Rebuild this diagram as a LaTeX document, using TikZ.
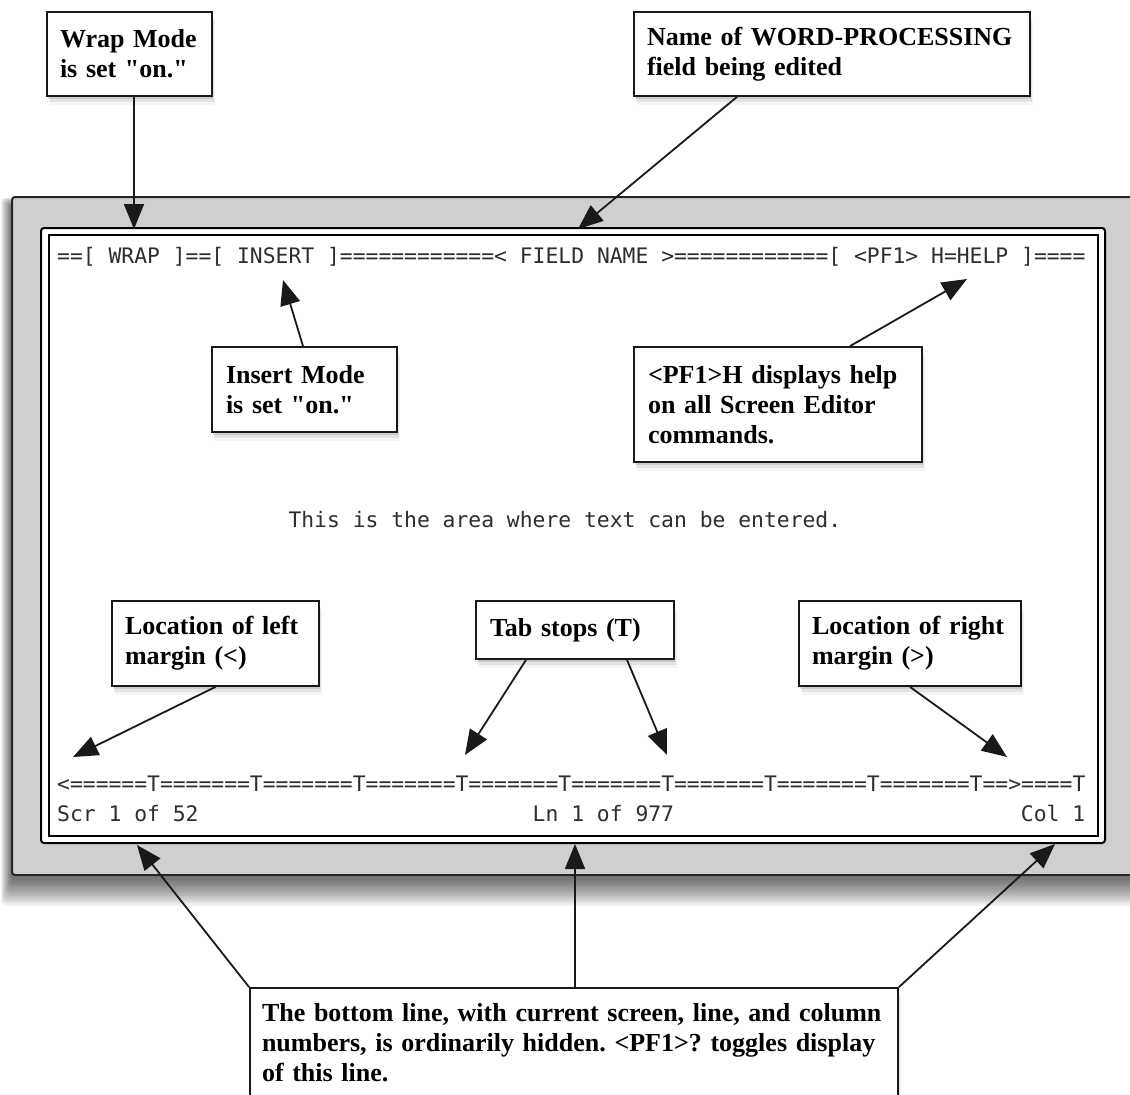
\documentclass[tikz,border=0pt]{standalone}
\usepackage{fontspec}
\setmainfont{Liberation Serif}
\newfontfamily\scrmono{DejaVu Sans Mono}
\usetikzlibrary{arrows.meta,calc,shadows}
\definecolor{greybg}{RGB}{207,207,207}
\frenchspacing
\tikzset{
  callout/.style={draw=black!90, line width=1.8pt, fill=white, align=left,
    inner xsep=13pt, inner ysep=0pt,
    font=\fontsize{26}{30}\selectfont\bfseries,
    general shadow={fill=black, opacity=0.10, shadow xshift=1pt, shadow yshift=-3pt},
    general shadow={fill=black, opacity=0.07, shadow xshift=2pt, shadow yshift=-6pt},
    general shadow={fill=black, opacity=0.04, shadow xshift=3pt, shadow yshift=-9pt}},
  arr/.style={line width=1.8pt, draw=black!90, -{Triangle[length=25pt,width=20pt]}},
  scrtext/.style={font=\scrmono\fontsize{21.35}{25}\selectfont, text=black!82,
    inner sep=0pt, anchor=base west},
}
\begin{document}
\begin{tikzpicture}[x=1pt,y=-1pt]
\path[use as bounding box] (0,0) rectangle (1130,1095);
\clip (0,0) rectangle (1130,1095);
\fill[white] (0,0) rectangle (1130,1095);

% shadow of the grey screen box
\foreach \k in {1,...,12}{
  \fill[black, opacity=0.06, rounded corners=4pt]
    ({12-\k*0.9},{205-\k*0.6}) rectangle (1150,{878+\k*2.3});
}
% grey screen box
\filldraw[fill=greybg, draw=black!85, line width=2pt, rounded corners=3pt]
  (12,197) rectangle (1150,875);
% white editing frame
\filldraw[fill=white, draw=black, line width=2pt, rounded corners=3pt]
  (41,228) rectangle (1105,843);
\draw[black, line width=1.5pt] (49,235) rectangle (1098,836);

% screen texts
\node[scrtext] (topline) at (57,263)
  {==[ WRAP ]==[ INSERT ]============< FIELD NAME >============[ <PF1> H=HELP ]====};
\node[scrtext] (area) at (288.3,527) {This is the area where text can be entered.};
\node[scrtext] (tabline) at (57,791)
  {<======T=======T=======T=======T=======T=======T=======T=======T=======T==>====T};
\node[scrtext] (scr) at (57,821) {Scr 1 of 52};
\node[scrtext] (ln) at (532.5,821) {Ln 1 of 977};
\node[scrtext] (col) at (1020.75,821) {Col 1};

% callouts
\node[callout, minimum width=165pt, minimum height=84pt, text width=139pt]
  (wrap) at (129.5,54) {Wrap Mode\\is set \textquotedbl on.\textquotedbl};
\node[callout, minimum width=396pt, minimum height=84pt, text width=370pt]
  (name) at (832,54) {Name of WORD-PROCESSING\\field being edited};
\node[callout, minimum width=185pt, minimum height=85pt, text width=157pt, inner xsep=14pt]
  (insert) at (304.5,389.5) {Insert Mode\\is set \textquotedbl on.\textquotedbl};
\node[callout, minimum width=288pt, minimum height=115pt, text width=260pt, inner xsep=14pt]
  (help) at (778,404.5) {<PF1>H displays help\\on all Screen Editor\\commands.};
\node[callout, minimum width=207pt, minimum height=85pt, text width=181pt]
  (lmargin) at (215.5,643.5) {Location of left\\margin (<)};
\node[callout, minimum width=198pt, minimum height=58pt, text width=170pt, inner xsep=14pt]
  (tabs) at (575,630) {Tab stops (T)};
\node[callout, minimum width=222pt, minimum height=85pt, text width=196pt]
  (rmargin) at (910,643.5) {Location of right\\margin (>)};
\node[callout, minimum width=648pt, minimum height=110pt, text width=624pt, inner xsep=12pt]
  (bottom) at (574,1043) {\mbox{The bottom line, with current screen, line, and column}\\\mbox{numbers, is ordinarily hidden. <PF1>? toggles display}\\of this line.};

% arrow tips
\coordinate (tWrap) at (134,229);
\coordinate (tName) at (578,229);
\coordinate (tIns) at (283,280);
\coordinate (tHelp) at (967,279);
\coordinate (tLeft) at (73,757);
\coordinate (tTab1) at (465,755);
\coordinate (tTab2) at (667,755);
\coordinate (tRight) at (1007,757);
\coordinate (tScr) at (137,845);
\coordinate (tLn) at (575,844);
\coordinate (tCol) at (1055,844);

% connectors
\draw[arr] (wrap.south -| tWrap) -- (tWrap);
\draw[arr] ([xshift=-95pt]name.south) -- (tName);
\draw[arr] ([xshift=-1.5pt]insert.north) -- (tIns);
\draw[arr] ([xshift=72pt]help.north) -- (tHelp);
\draw[arr] (lmargin.south) -- (tLeft);
\draw[arr] ([xshift=-49pt]tabs.south) -- (tTab1);
\draw[arr] ([xshift=52pt]tabs.south) -- (tTab2);
\draw[arr] (rmargin.south) -- (tRight);
\draw[arr] (bottom.north west) -- (tScr);
\draw[arr] ([xshift=1pt]bottom.north) -- (tLn);
\draw[arr] (bottom.north east) -- (tCol);
\end{tikzpicture}
\end{document}
